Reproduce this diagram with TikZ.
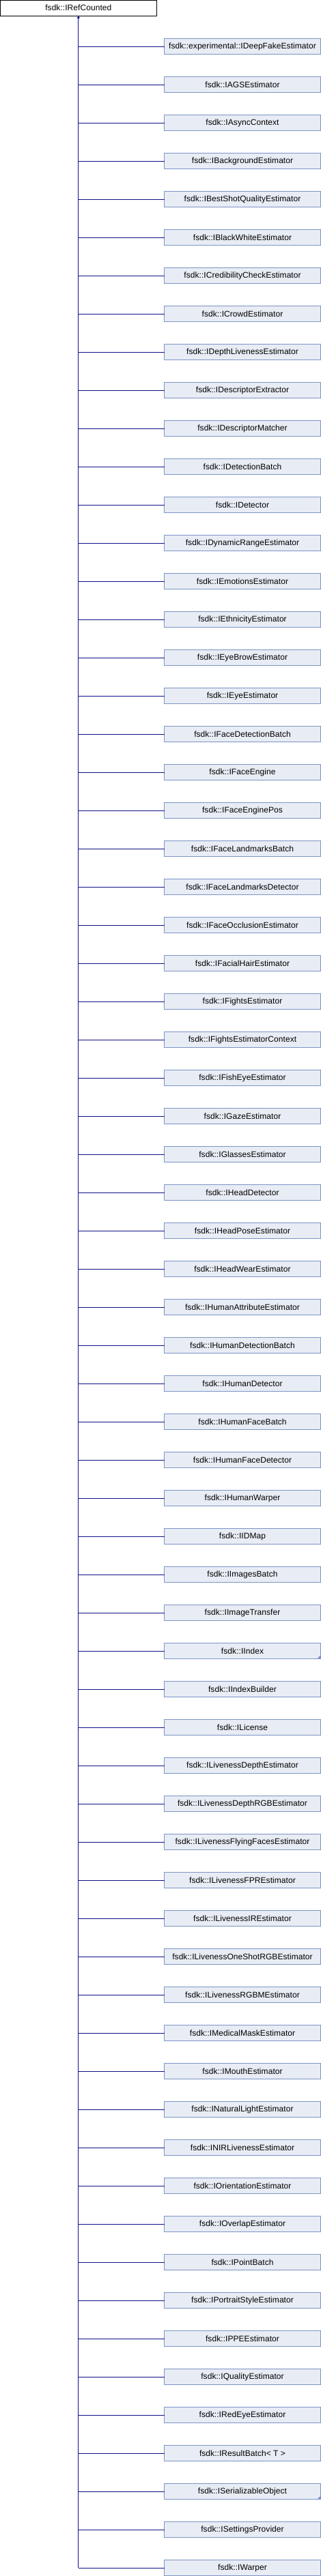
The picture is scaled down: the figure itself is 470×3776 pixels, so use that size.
\documentclass[tikz,border=0pt]{standalone}
\usepackage{fontspec}
\setmainfont{Liberation Sans}[LetterSpace=0.5]
\usetikzlibrary{arrows.meta}
\definecolor{edgeblue}{RGB}{16,16,135}
\definecolor{boxfill}{RGB}{232,236,244}
\definecolor{boxline}{RGB}{124,149,198}
\tikzset{
  rootbox/.style={draw=black, fill=white, line width=0.9pt, minimum width=228.6pt, minimum height=22.6pt, inner sep=0pt, outer sep=0pt, font=\fontsize{12}{14}\selectfont},
  childbox/.style={draw=boxline, fill=boxfill, line width=0.9pt, minimum width=229pt, minimum height=22.4pt, inner sep=0pt, outer sep=0pt, font=\fontsize{12}{14}\selectfont},
  edge/.style={draw=edgeblue, line width=0.9pt},
  moremark/.style={fill=boxline}
}
\begin{document}
\begin{tikzpicture}[x=1pt,y=-1pt]
\useasboundingbox (0,0) rectangle (470,3776);
\node[rootbox] (root) at (114.8,11.7) {fsdk::IRefCounted};
\foreach \n [count=\i] in {experimental::IDeepFakeEstimator,IAGSEstimator,IAsyncContext,IBackgroundEstimator,IBestShotQualityEstimator,IBlackWhiteEstimator,ICredibilityCheckEstimator,ICrowdEstimator,IDepthLivenessEstimator,IDescriptorExtractor,IDescriptorMatcher,IDetectionBatch,IDetector,IDynamicRangeEstimator,IEmotionsEstimator,IEthnicityEstimator,IEyeBrowEstimator,IEyeEstimator,IFaceDetectionBatch,IFaceEngine,IFaceEnginePos,IFaceLandmarksBatch,IFaceLandmarksDetector,IFaceOcclusionEstimator,IFacialHairEstimator,IFightsEstimator,IFightsEstimatorContext,IFishEyeEstimator,IGazeEstimator,IGlassesEstimator,IHeadDetector,IHeadPoseEstimator,IHeadWearEstimator,IHumanAttributeEstimator,IHumanDetectionBatch,IHumanDetector,IHumanFaceBatch,IHumanFaceDetector,IHumanWarper,IIDMap,IImagesBatch,IImageTransfer,IIndex,IIndexBuilder,ILicense,ILivenessDepthEstimator,ILivenessDepthRGBEstimator,ILivenessFlyingFacesEstimator,ILivenessFPREstimator,ILivenessIREstimator,ILivenessOneShotRGBEstimator,ILivenessRGBMEstimator,IMedicalMaskEstimator,IMouthEstimator,INaturalLightEstimator,INIRLivenessEstimator,IOrientationEstimator,IOverlapEstimator,IPointBatch,IPortraitStyleEstimator,IPPEEstimator,IQualityEstimator,IRedEyeEstimator,{IResultBatch< T >},ISerializableObject,ISettingsProvider,IWarper} {
  \node[childbox] (c\i) at (355.0,{68+56*(\i-1)}) {fsdk::\n};
  \draw[edge] (c\i.west) -- (c\i.west -| root.south);
}
\draw[edge,-{Triangle[length=4pt,width=4pt]}] (c67.west -| root.south) -- (root.south);
\fill[moremark] (c43.south east) -- ++(-5,0) -- ++(5,-5) -- cycle;
\fill[moremark] (c65.south east) -- ++(-5,0) -- ++(5,-5) -- cycle;
\end{tikzpicture}
\end{document}
